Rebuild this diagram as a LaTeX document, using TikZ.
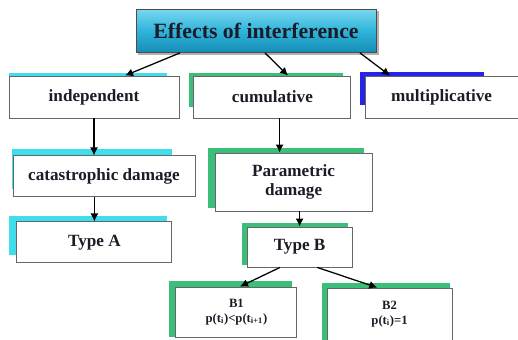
\documentclass[tikz,border=0pt]{standalone}
\usepackage{fontspec}
\setmainfont{Liberation Serif}
\usepackage{tikz}
\usetikzlibrary{arrows.meta,positioning,calc,backgrounds}

\definecolor{bandcyan}{RGB}{64,222,236}
\definecolor{bandgreen}{RGB}{58,190,122}
\definecolor{bandblue}{RGB}{36,36,232}
\definecolor{headtop}{RGB}{120,214,240}
\definecolor{headmid}{RGB}{46,180,218}
\definecolor{headbot}{RGB}{22,140,182}
\definecolor{textdark}{RGB}{28,28,40}

\begin{document}
\begin{tikzpicture}[
  box/.style={draw=black!60, line width=0.6pt, fill=white, inner sep=0pt, align=center,
    font=\fontsize{12.2}{14}\selectfont\bfseries, text=textdark},
  small/.style={font=\fontsize{9}{10.5}\selectfont\bfseries},
  head/.style={draw=black!70, line width=0.6pt, inner sep=0pt, top color=headtop,
    bottom color=headbot, middle color=headmid, font=\fontsize{15.5}{17}\selectfont\bfseries, text=textdark},
  line/.style={-{Latex[length=2mm,width=2mm]}, line width=0.9pt}
]
\useasboundingbox (0,0) rectangle (12.95,-8.5);

\node[head, minimum width=6.0cm, minimum height=1.075cm] (effects) at (6.40,-0.775) {Effects of interference};

\node[box, minimum width=4.25cm, minimum height=1.05cm] (indep) at (2.35,-2.425) {independent};
\node[box, minimum width=3.925cm, minimum height=1.05cm] (cumul) at (6.81,-2.425) {cumulative};
\node[box, minimum width=3.825cm, minimum height=1.05cm] (multi) at (11.04,-2.425) {multiplicative};

\node[box, minimum width=4.55cm, minimum height=1.025cm] (catas) at (2.60,-4.41) {catastrophic damage};
\node[box, minimum width=3.875cm, minimum height=1.025cm] (typeA) at (2.36,-6.06) {Type A};

\node[box, minimum width=3.925cm, minimum height=1.45cm] (param) at (7.34,-4.55) {Parametric\\damage};
\node[box, minimum width=2.625cm, minimum height=1.0cm] (typeB) at (7.49,-6.175) {Type B};

\node[box, small, minimum width=3.025cm, minimum height=1.25cm] (b1) at (5.91,-7.80) {B1\\p(t\textsubscript{i})<p(t\textsubscript{i+1})};
\node[box, small, minimum width=3.125cm, minimum height=1.30cm] (b2) at (9.74,-7.85) {B2\\p(t\textsubscript{i})=1};

% coloured bands behind the boxes
\begin{scope}[on background layer]
\fill[black!30] ([xshift=0.06cm,yshift=-0.06cm]effects.north west) rectangle ([xshift=0.06cm,yshift=-0.06cm]effects.south east);
\fill[bandcyan] ([yshift=0.075cm]indep.north west) rectangle ([xshift=-0.3cm,yshift=0.25cm]indep.south east);
\fill[bandgreen] ([xshift=-0.1cm,yshift=0.075cm]cumul.north west) rectangle ([xshift=-0.2cm,yshift=0.275cm]cumul.south east);
\fill[bandblue] ([xshift=-0.125cm,yshift=0.1cm]multi.north west) rectangle ([xshift=-0.875cm,yshift=0.325cm]multi.south east);
\fill[bandcyan] ([xshift=-0.025cm,yshift=0.15cm]catas.north west) rectangle ([xshift=-0.575cm,yshift=0.2cm]catas.south east);
\fill[bandcyan] ([xshift=-0.175cm,yshift=0.125cm]typeA.north west) rectangle ([xshift=-0.125cm,yshift=0.2cm]typeA.south east);
\fill[bandgreen] ([xshift=-0.175cm,yshift=0.125cm]param.north west) rectangle ([xshift=-0.225cm,yshift=0.075cm]param.south east);
\fill[bandgreen] ([xshift=-0.125cm,yshift=0.1cm]typeB.north west) rectangle ([xshift=-0.125cm,yshift=0.05cm]typeB.south east);
\fill[bandgreen] ([xshift=-0.15cm,yshift=0.15cm]b1.north west) rectangle ([xshift=-0.125cm]b1.south east);
\fill[bandgreen] ([xshift=-0.125cm,yshift=0.125cm]b2.north west) rectangle ([xshift=-0.075cm]b2.south east);
\end{scope}

\draw[line] ([xshift=-1.9cm]effects.south) -- ([xshift=0.775cm]indep.north);
\draw[line] ([xshift=0.225cm]effects.south) -- ([xshift=0.39cm]cumul.north);
\draw[line] ([xshift=2.6cm]effects.south) -- ([xshift=-1.29cm]multi.north);

\draw[line] (indep.south) -- (indep.south |- catas.north);
\draw[line] (typeA.north |- catas.south) -- (typeA.north);
\draw[line] ([xshift=0.18cm]cumul.south) -- ([xshift=0.18cm]cumul.south |- param.north);
\draw[line] (typeB.north |- param.south) -- (typeB.north);

\draw[line] ([xshift=-0.49cm]typeB.south) -- ([xshift=0.09cm]b1.north);
\draw[line] ([xshift=0.44cm]typeB.south) -- ([xshift=-0.31cm]b2.north);
\end{tikzpicture}
\end{document}
